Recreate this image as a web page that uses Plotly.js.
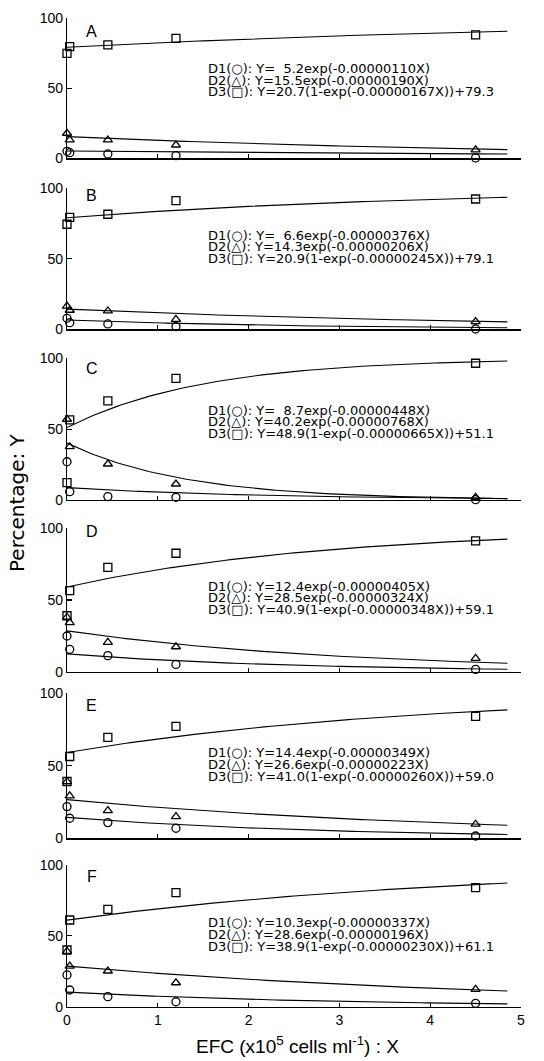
<!DOCTYPE html>
<html>
<head>
<meta charset="utf-8">
<script src="https://cdn.plot.ly/plotly-3.0.1.min.js"></script>
<style>html,body{margin:0;padding:0;background:#fff;}#chart{width:544px;height:1061px;}</style>
</head>
<body>
<div id="chart"></div>
<script>
// ---- data ----
const panelLabels = ['A','B','C','D','E','F'];
const xPoints = [0, 0.03, 0.45, 1.2, 4.5];   // EFC (x10^5 cells/ml)

// measured points (circles D1, triangles D2, squares D3)
const d1Points = [
  [5.0, 4.0, 3.1, 1.9, 0.3],
  [7.8, 4.7, 3.8, 1.9, 0.2],
  [27.0, 5.9, 2.4, 1.9, 0.2],
  [24.9, 15.6, 11.2, 5.1, 1.6],
  [21.8, 13.8, 10.8, 6.9, 1.6],
  [22.4, 11.8, 7.1, 3.5, 2.4]
];
const d2Points = [
  [17.9, 13.1, 13.1, 9.5, 6.0],
  [16.5, 13.5, 13.0, 7.1, 5.4],
  [57.0, 37.6, 25.4, 11.3, 1.9],
  [38.0, 34.2, 20.5, 17.4, 9.3],
  [39.0, 29.2, 19.1, 14.9, 9.7],
  [39.0, 28.7, 25.2, 16.9, 12.2]
];
const d3Points = [
  [75.0, 79.8, 81.0, 85.7, 88.1],
  [74.5, 79.4, 81.6, 91.3, 92.4],
  [12.2, 56.5, 69.9, 85.9, 96.5],
  [39.0, 56.5, 72.8, 82.6, 91.2],
  [39.1, 56.3, 69.4, 77.0, 83.9],
  [40.0, 61.2, 68.7, 80.5, 84.0]
];

// fitted equation parameters printed on the chart
const d1A = [5.2, 6.6, 8.7, 12.4, 14.4, 10.3];
const d1K = [0.00000110, 0.00000376, 0.00000448, 0.00000405, 0.00000349, 0.00000337];
const d2A = [15.5, 14.3, 40.2, 28.5, 26.6, 28.6];
const d2K = [0.00000190, 0.00000206, 0.00000768, 0.00000324, 0.00000223, 0.00000196];
const d3A = [20.7, 20.9, 48.9, 40.9, 41.0, 38.9];
const d3K = [0.00000167, 0.00000245, 0.00000665, 0.00000348, 0.00000260, 0.00000230];
const d3C = [79.3, 79.1, 51.1, 59.1, 59.0, 61.1];

// ---- layout geometry (page pixels) ----
const W = 544, H = 1061, ML = 67, MR = 23;
const PW = W - ML - MR;
const panelZeroPx = [158.3, 329.3, 500.0, 671.7, 838.3, 1006.7];
const panelTopPx  = [18.3, 188.3, 358.3, 528.3, 693.0, 865.0];
const eqFirstPx = [68.3, 235.0, 410.0, 586.0, 752.7, 922.7];
const eqPitchPx = 11.8;
const eqLeftPx = 207;
const letterY = [90.4, 95.0, 93.0, 97.6, 91.7, 91.7];

const traces = [];
const layout = {
  width: W, height: H,
  margin: {l: ML, r: MR, t: 0, b: 0},
  paper_bgcolor: '#fff', plot_bgcolor: 'rgba(0,0,0,0)',
  showlegend: false,
  font: {family: 'Liberation Sans, Arial, sans-serif', color: '#000', size: 14},
  annotations: []
};

const curveX = [];
for (let x = 0; x <= 4.851; x += 0.05) curveX.push(+x.toFixed(3));

const mk = (sym) => ({symbol: sym, size: 8, color: '#000', line: {color: '#000', width: 1.3}});
const eqFont = {family: 'DejaVu Sans, sans-serif', size: 13, color: '#000'};

for (let i = 0; i < 6; i++) {
  const n = i + 1;
  const xa = 'x' + n, ya = 'y' + n;
  const sfx = n === 1 ? '' : n;
  // fitted curves from the equations printed in each panel
  const c1 = curveX.map(x => d1A[i] * Math.exp(-d1K[i] * x * 1e5));
  const c2 = curveX.map(x => d2A[i] * Math.exp(-d2K[i] * x * 1e5));
  const c3 = curveX.map(x => d3A[i] * (1 - Math.exp(-d3K[i] * x * 1e5)) + d3C[i]);
  [c1, c2, c3].forEach(c => traces.push({x: curveX, y: c, xaxis: xa, yaxis: ya, mode: 'lines',
    line: {color: '#000', width: 1.1}, cliponaxis: false, hoverinfo: 'skip'}));
  traces.push({x: xPoints, y: d1Points[i], xaxis: xa, yaxis: ya, mode: 'markers', marker: mk('circle-open'), cliponaxis: false});
  traces.push({x: xPoints, y: d2Points[i], xaxis: xa, yaxis: ya, mode: 'markers', marker: mk('triangle-up-open'), cliponaxis: false});
  traces.push({x: xPoints, y: d3Points[i], xaxis: xa, yaxis: ya, mode: 'markers', marker: mk('square-open'), cliponaxis: false});

  layout['xaxis' + sfx] = {
    domain: [0, 1], range: [0, 5], anchor: ya,
    showline: true, linecolor: '#000', linewidth: 1.2,
    ticks: 'inside', ticklen: 4, tickwidth: 1.1, tickcolor: '#000',
    tickvals: n === 6 ? [0, 1, 2, 3, 4, 5] : [1, 2, 3, 4, 5],
    showticklabels: n === 6, tickfont: {size: 14},
    showgrid: false, zeroline: false
  };
  layout['yaxis' + sfx] = {
    domain: [1 - panelZeroPx[i] / H, 1 - panelTopPx[i] / H], range: [0, 100], anchor: xa,
    showline: true, linecolor: '#000', linewidth: 1.2,
    ticks: 'inside', ticklen: 5, tickwidth: 1.1, tickcolor: '#000',
    tickvals: [0, 50, 100], tickfont: {size: 14},
    showgrid: false, zeroline: false
  };

  const eqs = [
    'D1(○): Y=' + (d1A[i] < 10 ? '  ' : '') + d1A[i].toFixed(1) + 'exp(-' + d1K[i].toFixed(8) + 'X)',
    'D2(△): Y=' + d2A[i].toFixed(1) + 'exp(-' + d2K[i].toFixed(8) + 'X)',
    'D3(□): Y=' + d3A[i].toFixed(1) + '(1-exp(-' + d3K[i].toFixed(8) + 'X))+' + d3C[i].toFixed(1)
  ];
  eqs.forEach((t, k) => layout.annotations.push({
    text: t, xref: 'paper', yref: 'paper',
    x: (eqLeftPx - ML) / PW, y: 1 - (eqFirstPx[i] + k * eqPitchPx) / H,
    xanchor: 'left', yanchor: 'middle', borderpad: 0,
    showarrow: false, font: eqFont
  }));
  layout.annotations.push({
    text: panelLabels[i], xref: xa, yref: ya, x: 0.27, y: letterY[i], xanchor: 'center', yanchor: 'middle',
    showarrow: false, font: {family: 'Liberation Sans, sans-serif', size: 16, color: '#000'}
  });
}

layout.annotations.push({
  text: 'Percentage: Y', xref: 'paper', yref: 'paper', x: (17 - ML) / PW, y: 1 - 503 / H,
  xanchor: 'center', yanchor: 'middle', textangle: -90, showarrow: false,
  font: {family: 'DejaVu Sans, sans-serif', size: 20, color: '#000'}
});
layout.annotations.push({
  text: 'EFC (x10<sup>5</sup> cells ml<sup>-1</sup>) : X', xref: 'paper', yref: 'paper',
  x: (297 - ML) / PW, y: 1 - 1045 / H, xanchor: 'center', yanchor: 'middle', showarrow: false,
  font: {family: 'Liberation Sans, sans-serif', size: 19, color: '#000'}
});

Plotly.newPlot('chart', traces, layout, {staticPlot: true, displayModeBar: false});
</script>
</body>
</html>
